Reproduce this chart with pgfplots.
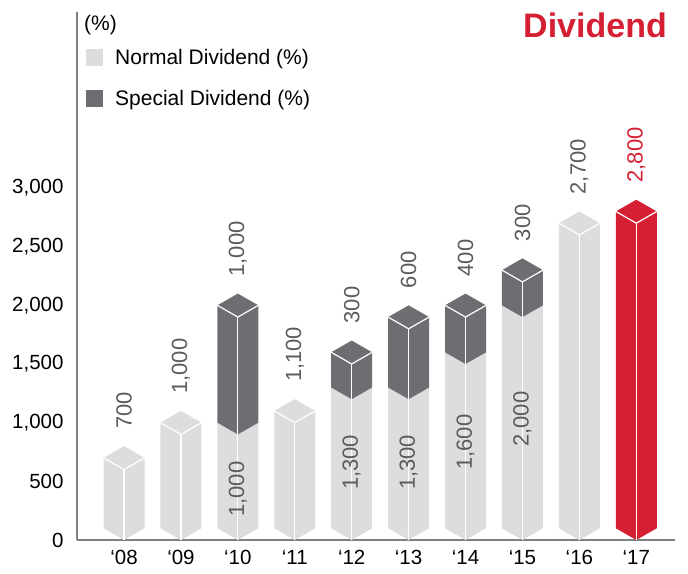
\documentclass[border=0pt]{standalone}
\usepackage{fontspec}
\setmainfont{Liberation Sans}
\usepackage{pgfplots}
\pgfplotsset{compat=1.18}

\definecolor{lightg}{HTML}{DCDDDE}
\definecolor{darkg}{HTML}{6D6E71}
\definecolor{redbar}{HTML}{D51F32}
\definecolor{labgray}{HTML}{5A5B5D}
\definecolor{axgray}{HTML}{808080}

% half width of a bar (x units) and depth of the top/bottom faces (y units)
\newcommand{\hw}{0.36}
\newcommand{\dd}{100}

% one block of a bar: x, base level, top level, colour
\newcommand{\seg}[4]{%
  \pgfmathsetmacro{\sxl}{#1-\hw}%
  \pgfmathsetmacro{\sxr}{#1+\hw}%
  \pgfmathsetmacro{\sbf}{#2-\dd}%
  \pgfmathsetmacro{\stb}{#3+\dd}%
  \addplot[fill=#4, draw=none, forget plot] coordinates {(\sxl,#2) (#1,\sbf) (\sxr,#2) (\sxr,#3) (#1,\stb) (\sxl,#3)};%
}
% white edges of a bar: x, top level
\newcommand{\edges}[2]{%
  \pgfmathsetmacro{\sxl}{#1-\hw}%
  \pgfmathsetmacro{\sxr}{#1+\hw}%
  \pgfmathsetmacro{\stf}{#2-\dd}%
  \addplot[white, line width=1.2pt, forget plot] coordinates {(\sxl,#2) (#1,\stf) (\sxr,#2)};%
  \addplot[white, line width=1.2pt, forget plot] coordinates {(#1,0) (#1,\stf)};%
}

\begin{document}
\begin{tikzpicture}
\begin{axis}[
  scale only axis,
  width=598pt, height=528pt,
  xmin=-0.826, xmax=9.68,
  ymin=0, ymax=4500,
  axis x line=bottom, axis y line=left,
  axis line style={-, draw=axgray, line width=1.5pt},
  major tick length=0pt,
  xtick={0,1,2,3,4,5,6,7,8,9},
  xticklabels={‘08,‘09,‘10,‘11,‘12,‘13,‘14,‘15,‘16,‘17},
  ytick={0,500,1000,1500,2000,2500,3000},
  /pgf/number format/assume math mode=true,
  /pgf/number format/1000 sep={,},
  tick label style={font=\fontsize{20.5}{24}\selectfont, text=black},
  yticklabel style={xshift=-10pt},
  xticklabel style={yshift=-7pt},
  legend cell align=left,
  legend image code/.code={\fill[#1] (0pt,-8.5pt) rectangle (17pt,8.5pt);},
  legend style={at={(rel axis cs:0,1)}, anchor=north west, xshift=6pt, yshift=-33pt,
    draw=none, fill=none, font=\fontsize{21}{25}\selectfont, row sep=20pt,
    /tikz/column sep=10pt},
]
\addlegendimage{fill=lightg, draw=none}
\addlegendentry{Normal Dividend (\%)}
\addlegendimage{fill=darkg, draw=none}
\addlegendentry{Special Dividend (\%)}

% normal dividend blocks
\seg{0}{100}{700}{lightg}
\seg{1}{100}{1000}{lightg}
\seg{2}{100}{1000}{lightg}
\seg{3}{100}{1100}{lightg}
\seg{4}{100}{1300}{lightg}
\seg{5}{100}{1300}{lightg}
\seg{6}{100}{1600}{lightg}
\seg{7}{100}{2000}{lightg}
\seg{8}{100}{2700}{lightg}
\seg{9}{100}{2800}{redbar}
% special dividend blocks (stacked on top)
\seg{2}{1000}{2000}{darkg}
\seg{4}{1300}{1600}{darkg}
\seg{5}{1300}{1900}{darkg}
\seg{6}{1600}{2000}{darkg}
\seg{7}{2000}{2300}{darkg}
% edges
\edges{0}{700}
\edges{1}{1000}
\edges{2}{2000}
\edges{3}{1100}
\edges{4}{1600}
\edges{5}{1900}
\edges{6}{2000}
\edges{7}{2300}
\edges{8}{2700}
\edges{9}{2800}

% value labels above the bars
\begin{scope}[every node/.style={rotate=90, anchor=west, inner sep=0pt,
    font=\fontsize{22}{26}\selectfont, text=labgray}]
\node at (axis cs:0,945) {700};
\node at (axis cs:1,1245) {1,000};
\node at (axis cs:2,2245) {1,000};
\node at (axis cs:3,1345) {1,100};
\node at (axis cs:4,1845) {300};
\node at (axis cs:5,2145) {600};
\node at (axis cs:6,2245) {400};
\node at (axis cs:7,2545) {300};
\node at (axis cs:8,2945) {2,700};
\node[text=redbar] at (axis cs:9,3045) {2,800};
% normal dividend labels inside stacked bars
\node at (axis cs:2,196) {1,000};
\node at (axis cs:4,426) {1,300};
\node at (axis cs:5,426) {1,300};
\node at (axis cs:6,597) {1,600};
\node at (axis cs:7,793) {2,000};
\end{scope}

\node[anchor=north west, inner sep=0pt, font=\fontsize{21}{25}\selectfont]
  at (rel axis cs:0,1) [xshift=7pt, yshift=-3pt] {(\%)};
\node[anchor=north east, inner sep=0pt, font=\fontsize{34}{40}\selectfont\bfseries, text=redbar]
  at (rel axis cs:1,1) [xshift=-8pt, yshift=-1pt] {Dividend};
\end{axis}
\pgfresetboundingbox
\path (-77pt,-33pt) rectangle (611pt,540pt);
\end{tikzpicture}
\end{document}
